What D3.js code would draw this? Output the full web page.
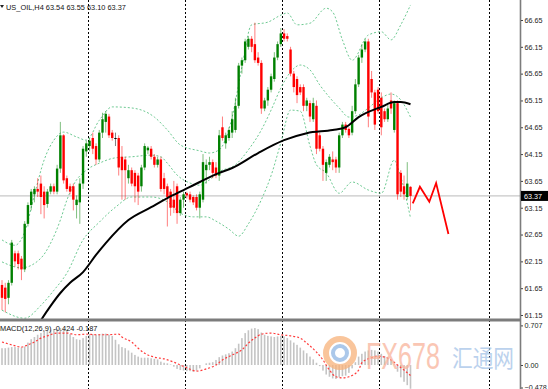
<!DOCTYPE html>
<html>
<head>
<meta charset="utf-8">
<script src="https://cdn.jsdelivr.net/npm/d3@7"></script>
<style>
  body { margin: 0; background: #fff; }
  svg { display: block; font-family: "Liberation Sans", Arial, sans-serif; }
</style>
</head>
<body>
<svg id="chart" width="548" height="389"></svg>
<script>
// H4 candles: [open, high, low, close]
var candles = [
  [61.71,61.80,61.24,61.47],[61.66,61.75,61.20,61.45],[61.47,61.80,61.35,61.75],[61.75,62.55,61.70,62.50],
  [62.30,62.35,62.05,62.15],[62.30,62.35,62.00,62.10],[62.20,62.25,61.80,62.00],[62.00,62.90,61.95,62.85],
  [62.85,63.25,62.80,63.20],[63.20,63.50,63.10,63.45],[63.40,63.55,63.25,63.50],[63.50,63.70,63.35,63.45],
  [63.60,63.75,63.03,63.35],[63.45,63.55,62.95,63.20],[63.22,63.50,63.15,63.45],[63.45,63.60,63.40,63.55],
  [63.55,63.60,63.40,63.45],[63.45,63.95,63.40,63.88],[63.88,64.75,63.80,64.50],[64.50,64.52,63.60,63.66],
  [63.70,63.75,63.45,63.50],[63.55,63.60,63.40,63.45],[63.55,63.60,63.10,63.30],[63.20,63.38,62.95,63.30],
  [63.25,63.70,62.85,63.60],[63.60,64.30,63.50,64.25],[64.20,64.40,64.10,64.35],[64.30,64.45,64.20,64.40],
  [64.45,64.55,64.15,64.25],[64.30,64.35,63.95,64.05],[64.05,64.60,64.00,64.55],[64.55,64.92,64.45,64.80],
  [64.75,64.95,64.55,64.90],[64.85,64.90,64.45,64.50],[64.55,64.60,64.40,64.45],[64.45,64.55,64.30,64.45],
  [64.45,64.50,63.75,63.90],[64.10,64.30,63.30,63.85],[64.05,64.10,63.30,63.85],[63.70,63.95,63.60,63.85],
  [63.85,63.90,63.55,63.60],[63.80,63.85,63.25,63.55],[63.75,63.80,63.20,63.45],[63.55,63.95,63.45,63.90],
  [63.90,64.35,63.85,64.30],[64.22,64.30,64.15,64.27],[64.25,64.30,64.05,64.10],[64.10,64.15,63.90,63.95],
  [63.95,64.10,63.90,64.05],[64.05,64.10,63.45,63.50],[63.70,63.80,63.40,63.50],[63.55,63.60,62.80,63.35],
  [63.45,63.50,63.00,63.15],[63.30,63.65,63.05,63.15],[63.55,63.60,62.85,63.05],[63.05,63.35,63.00,63.30],
  [63.30,63.45,63.15,63.40],[63.42,63.45,63.32,63.38],[63.40,63.45,63.25,63.30],[63.35,63.38,63.20,63.25],
  [63.35,63.40,63.10,63.15],[63.15,63.45,62.95,63.40],[63.30,64.15,63.25,64.00],[63.85,64.05,63.60,63.95],
  [63.95,64.10,63.85,64.00],[64.00,64.05,63.70,63.80],[63.90,64.00,63.70,63.75],[63.75,64.60,63.65,64.50],
  [64.65,64.85,64.40,64.45],[64.35,64.55,64.25,64.50],[64.45,64.65,64.40,64.60],[64.55,64.95,64.45,64.80],
  [64.60,65.20,64.55,65.05],[65.05,65.85,65.00,65.80],[65.80,65.95,65.65,65.90],[65.90,66.30,65.85,66.25],
  [66.15,66.35,66.10,66.30],[66.30,66.35,66.05,66.15],[66.20,66.60,65.85,65.90],[65.95,66.05,65.80,65.85],
  [65.85,65.90,64.90,65.00],[65.00,65.20,64.95,65.15],[65.15,65.40,65.05,65.35],[65.35,65.65,65.30,65.60],
  [65.55,66.05,65.50,65.95],[65.95,66.25,65.90,66.20],[66.20,66.50,66.15,66.40],[66.40,66.48,66.25,66.30],
  [66.35,66.40,66.25,66.30],[66.10,66.15,65.60,65.65],[65.65,65.70,65.30,65.40],[65.55,65.60,65.10,65.25],
  [65.40,65.45,65.25,65.30],[65.40,65.45,64.95,65.05],[65.05,65.20,64.95,65.15],[65.10,65.15,64.75,64.85],
  [64.80,65.20,64.75,65.10],[65.05,65.15,64.15,64.25],[64.50,64.55,64.20,64.25],[64.25,64.30,63.65,63.95],
  [63.80,64.05,63.65,64.00],[63.95,64.15,63.90,64.10],[64.05,64.20,63.85,64.00],[64.05,64.10,63.80,63.90],
  [63.90,64.55,63.80,64.50],[64.50,64.75,64.45,64.70],[64.70,64.75,64.55,64.60],[64.62,64.65,64.45,64.50],
  [64.55,65.05,64.50,64.95],[64.95,65.55,64.90,65.45],[65.45,66.00,65.40,65.95],[65.95,66.20,65.85,66.10],
  [66.10,66.30,66.05,66.25],[66.25,66.30,64.65,64.85],[65.55,65.70,65.20,65.30],[65.30,65.35,64.60,64.70],
  [65.35,65.40,64.90,64.95],[65.20,65.30,64.50,64.65],[64.95,65.00,64.75,64.80],[64.80,65.10,64.75,65.00],
  [65.15,65.30,64.90,65.00],[64.60,65.15,64.55,65.10],[65.10,65.15,63.30,63.40],[63.80,63.85,63.35,63.45],
  [63.55,63.75,63.30,63.40],[63.35,64.00,63.30,63.60],[63.54,63.55,63.10,63.37]
];

// Bollinger bands, read at some bars: bar index, upper, middle, lower
var bbUpBars = [0,4,7,10,13,16,19,23,26,30,34,40,47,51,55,61,64,67,71,74,77,82,86,88,91,95,100,102,105,108,113,117,120,123,126];
var bbUp     = [62.55,62.45,62.70,63.39,64.04,64.41,64.56,64.47,64.41,64.78,65.03,65.01,64.84,64.60,64.32,64.21,64.17,64.23,64.84,65.77,66.56,66.61,66.74,66.78,66.56,66.59,66.87,66.80,66.28,65.90,66.37,66.43,66.28,66.56,66.93];
var bbMidBars = [0,6,12,15,18,20,22,26,30,35,40,46,49,51,54,58,61,64,67,72,76,80,83,86,89,92,95,98,101,104,107,110,113,117,120,123,126];
var bbMid     = [62.14,62.03,62.21,62.49,62.92,63.29,63.57,63.85,63.98,64.08,64.10,64.13,64.10,63.98,63.76,63.61,63.57,63.67,63.82,63.95,64.23,64.60,64.97,65.38,65.68,65.81,65.72,65.44,65.21,65.01,64.84,64.88,65.01,65.20,65.27,65.16,64.84];
var bbLowBars = [0,7,12,16,20,25,30,35,40,46,51,55,59,63,66,70,73,76,80,83,86,89,92,95,97,100,104,108,113,117,121,122,126];
var bbLow     = [61.24,61.09,61.33,61.61,61.93,62.55,62.88,63.16,63.35,63.35,63.26,63.05,62.98,62.98,62.90,62.75,62.62,62.85,63.30,63.75,64.36,64.97,64.95,64.30,63.95,63.80,63.42,63.63,63.48,63.42,64.04,63.91,62.96];

// black moving average, read at some bars
var maBars = [9,12,15,18,21,25,29,32,39,46,51,56,61,67,71,79,87,94,102,106,110,117,121,123,126];
var maVals = [60.75,61.05,61.32,61.56,61.75,61.95,62.27,62.49,62.92,63.16,63.33,63.48,63.63,63.80,63.89,64.17,64.41,64.54,64.60,64.65,64.84,65.03,65.12,65.12,65.08];

// MACD(12,26,9) main values, one per bar
var macd = [0.30,0.30,0.31,0.32,0.32,0.31,0.31,0.33,0.40,0.46,0.50,0.54,0.57,0.60,0.62,0.63,0.64,0.64,0.66,0.64,
  0.62,0.55,0.50,0.46,0.45,0.48,0.52,0.55,0.55,0.54,0.55,0.56,0.56,0.54,0.52,0.45,0.37,0.32,0.30,0.26,
  0.22,0.18,0.15,0.13,0.13,0.13,0.12,0.11,0.10,0.06,0.04,0.03,0.01,-0.03,-0.07,-0.09,-0.10,-0.11,-0.11,-0.12,
  -0.10,-0.06,0.00,0.03,0.04,0.05,0.09,0.14,0.17,0.19,0.21,0.24,0.30,0.38,0.48,0.57,0.62,0.65,0.66,0.64,
  0.58,0.54,0.52,0.51,0.50,0.51,0.52,0.51,0.48,0.44,0.40,0.36,0.31,0.26,0.21,0.15,0.10,0.04,-0.02,-0.10,
  -0.17,-0.21,-0.24,-0.25,-0.22,-0.20,-0.19,-0.14,-0.06,0.05,0.15,0.20,0.24,0.26,0.27,0.26,0.24,0.20,0.16,0.13,
  0.08,0.01,-0.12,-0.22,-0.30,-0.36,-0.424];
// signal line, read at some bars
var sigBars = [0,3,6,8,10,12,14,17,20,23,26,29,32,36,37,40,42,44,47,50,53,55,57,60,63,66,68,71,74,76,78,80,83,86,89,92,94,97,99,101,103,105,107,110,111,114,116,118,120,122,124,126];
var sigVals = [0.41,0.36,0.32,0.36,0.41,0.48,0.52,0.57,0.57,0.54,0.55,0.54,0.54,0.55,0.50,0.41,0.30,0.21,0.14,0.11,0.05,0.00,-0.05,-0.11,-0.07,0.00,0.09,0.18,0.27,0.39,0.48,0.55,0.57,0.54,0.52,0.48,0.39,0.23,0.09,-0.09,-0.21,-0.23,-0.21,-0.09,0.04,0.13,0.16,0.14,0.09,0.00,-0.09,-0.187];

// week separators (bar positions) and the hand drawn forecast
var sepBars = [26.5, 56.4, 86.4, 116.3, 150.2];
var fcBars = [126.7, 128.9, 131.8, 133.9, 137.7];
var fcVals = [63.23, 63.54, 63.26, 63.61, 62.66];

var priceTicks = [66.65, 66.15, 65.65, 65.15, 64.65, 64.15, 63.65, 63.15, 62.65, 62.15, 61.65, 61.15];
var macdTicks = [0.707, 0, -0.478];
var lastPrice = 63.37;
var title = "US_OIL,H4  63.54 63.55 63.10 63.37";
var macdTitle = "MACD(12,26,9) -0.424 -0.187";

var W = 548, H = 389, plotR = 520;
var svg = d3.select("#chart");

var x = d3.scaleLinear().domain([0, 126]).range([2, 410.5]);
var y = d3.scaleLinear().domain([61.15, 66.65]).range([315, 20]);
var ym = d3.scaleLinear().domain([0, 0.707]).range([365, 325.4]);

var defs = svg.append("defs");
defs.append("clipPath").attr("id", "clipMain")
  .append("rect").attr("x", 0).attr("y", 0).attr("width", plotR).attr("height", 319);
defs.append("clipPath").attr("id", "clipMacd")
  .append("rect").attr("x", 0).attr("y", 322).attr("width", plotR).attr("height", H - 322);

// period separators
svg.append("g").selectAll("line").data(sepBars).enter().append("line")
  .attr("x1", function(d) { return Math.round(x(d)) + 0.5; })
  .attr("x2", function(d) { return Math.round(x(d)) + 0.5; })
  .attr("y1", 0).attr("y2", H)
  .style("stroke", "#000").style("stroke-width", 1).style("stroke-dasharray", "2,2");

var main = svg.append("g").attr("clip-path", "url(#clipMain)");

// current price line
main.append("line")
  .attr("x1", 0).attr("x2", plotR)
  .attr("y1", y(lastPrice)).attr("y2", y(lastPrice))
  .style("stroke", "#c8c8c8").style("stroke-width", 1.2);

// bollinger bands
function band(bars, vals) {
  var pts = bars.map(function(b, i) { return [x(b), y(vals[i])]; });
  main.append("path")
    .attr("d", d3.line().curve(d3.curveMonotoneX)(pts))
    .style("fill", "none").style("stroke", "#6cc991").style("stroke-width", 1)
    .style("stroke-dasharray", "2,2");
}
band(bbUpBars, bbUp);
band(bbMidBars, bbMid);
band(bbLowBars, bbLow);

// candles
var cg = main.selectAll(".candle").data(candles).enter().append("g").attr("class", "candle");
function candleColor(d) {
  if (d[3] > d[0]) return "#008000";
  if (d[3] < d[0]) return "#ff0000";
  return "#000";
}
cg.append("line")
  .attr("x1", function(d, i) { return x(i); })
  .attr("x2", function(d, i) { return x(i); })
  .attr("y1", function(d) { return y(d[1]); })
  .attr("y2", function(d) { return y(d[2]); })
  .style("stroke", candleColor).style("stroke-width", 1).style("opacity", 0.5);
cg.append("rect")
  .attr("x", function(d, i) { return x(i) - 1.2; })
  .attr("width", 2.4)
  .attr("y", function(d) { return y(Math.max(d[0], d[3])); })
  .attr("height", function(d) { return Math.max(1, Math.abs(y(d[0]) - y(d[3]))); })
  .style("fill", candleColor);

// moving average
main.append("path")
  .attr("d", d3.line().curve(d3.curveMonotoneX)(maBars.map(function(b, i) { return [x(b), y(maVals[i])]; })))
  .style("fill", "none").style("stroke", "#000").style("stroke-width", 2);

// forecast
main.append("path")
  .attr("d", d3.line()(fcBars.map(function(b, i) { return [x(b), y(fcVals[i])]; })))
  .style("fill", "none").style("stroke", "#ff0000").style("stroke-width", 1.8)
  .style("stroke-linejoin", "miter");

// MACD panel
var mg = svg.append("g").attr("clip-path", "url(#clipMacd)");
mg.selectAll("rect").data(macd).enter().append("rect")
  .attr("x", function(d, i) { return x(i) - 0.8; })
  .attr("width", 1.6)
  .attr("y", function(d) { return Math.min(ym(d), ym(0)); })
  .attr("height", function(d) { return Math.abs(ym(d) - ym(0)); })
  .style("fill", "#c4c4c4");
mg.append("path")
  .attr("d", d3.line().curve(d3.curveMonotoneX)(sigBars.map(function(b, i) { return [x(b), ym(sigVals[i])]; })))
  .style("fill", "none").style("stroke", "#ff3b3b").style("stroke-width", 1.2)
  .style("stroke-dasharray", "2,2");

// panel divider and right axis line
svg.append("rect").attr("x", 0).attr("y", 318.5).attr("width", plotR).attr("height", 3).style("fill", "#7c7c7c");
svg.append("line").attr("x1", plotR + 0.5).attr("x2", plotR + 0.5).attr("y1", 0).attr("y2", H)
  .style("stroke", "#7c7c7c").style("stroke-width", 1.6);

// axes
var ay = svg.append("g").attr("transform", "translate(" + (plotR + 1) + ",0)")
  .call(d3.axisRight(y).tickValues(priceTicks).tickSize(2).tickPadding(1.5).tickFormat(d3.format(".2f")));
var am = svg.append("g").attr("transform", "translate(" + (plotR + 1) + ",0)")
  .call(d3.axisRight(ym).tickValues(macdTicks).tickSize(2).tickPadding(1.5)
    .tickFormat(function(d) { return d === 0 ? "0.00" : d3.format(".3f")(d); }));
[ay, am].forEach(function(a) {
  a.select(".domain").remove();
  a.selectAll("text").style("font-size", "7.2px").style("fill", "#222").style("font-family", "Liberation Sans, Arial, sans-serif");
  a.selectAll(".tick line").style("stroke", "#444");
});
am.selectAll(".tick").filter(function(d) { return d < 0; }).attr("transform", "translate(0,388)");

// last price tag
svg.append("rect").attr("x", plotR + 1).attr("y", y(lastPrice) - 5).attr("width", 27).attr("height", 10).style("fill", "#000");
svg.append("text").attr("x", plotR + 4).attr("y", y(lastPrice) + 3)
  .style("font-size", "7.2px").style("fill", "#fff").text(d3.format(".2f")(lastPrice));

// titles
svg.append("path").attr("d", "M0,5 L4,5 L2,8 Z").style("fill", "#222");
svg.append("text").attr("x", 6).attr("y", 10).style("font-size", "7.4px").style("fill", "#111").text(title);
svg.append("text").attr("x", 0).attr("y", 331).style("font-size", "7.4px").style("fill", "#111").text(macdTitle);

// watermark
var wm = svg.append("g").style("opacity", 0.75);
wm.append("circle").attr("cx", 340).attr("cy", 353).attr("r", 14).style("fill", "none")
  .style("stroke", "#f8b27a").style("stroke-width", 6);
wm.append("circle").attr("cx", 340).attr("cy", 353).attr("r", 7).style("fill", "none")
  .style("stroke", "#8fb6e3").style("stroke-width", 4);
wm.append("text").attr("x", 366).attr("y", 369).attr("textLength", 74).attr("lengthAdjust", "spacingAndGlyphs")
  .style("font-size", "36px").style("fill", "#f9b49b").text("FX678");
wm.append("text").attr("x", 452).attr("y", 367).attr("textLength", 62).attr("lengthAdjust", "spacingAndGlyphs")
  .style("font-family", "Noto Sans CJK SC").style("font-size", "24px").style("fill", "#a5c3e8").text("汇通网");
</script>
</body>
</html>
